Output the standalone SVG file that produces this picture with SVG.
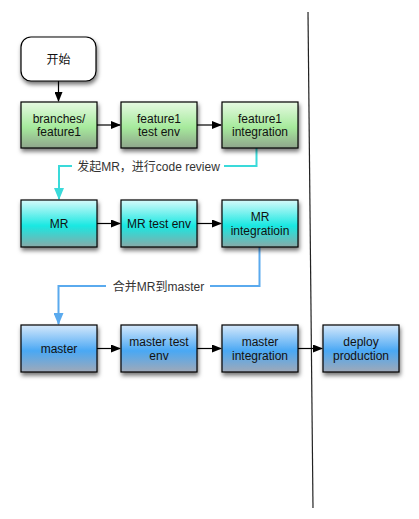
<svg xmlns="http://www.w3.org/2000/svg" width="419" height="519" viewBox="0 0 419 519">
<style>
.box{stroke:#000;stroke-width:1.2}
.t{font-family:"Liberation Sans","Noto Sans CJK SC",sans-serif;font-size:12px;fill:#111;text-anchor:middle}
.lbl{font-family:"Liberation Sans","Noto Sans CJK SC",sans-serif;font-size:12px;fill:#333;text-anchor:middle}
.blk{stroke:#000;stroke-width:1.2;fill:none}
</style>
<defs>
<filter id="sh" x="-20%" y="-20%" width="150%" height="160%">
<feDropShadow dx="1" dy="3" stdDeviation="2" flood-color="#000" flood-opacity="0.55"/>
</filter>
<linearGradient id="gG" x1="0" y1="0" x2="0" y2="1">
<stop offset="0" stop-color="#e6f9e2"/><stop offset="0.55" stop-color="#a6ea9c"/><stop offset="1" stop-color="#8fa58c"/>
</linearGradient>
<linearGradient id="gC" x1="0" y1="0" x2="0" y2="1">
<stop offset="0" stop-color="#d6fafa"/><stop offset="0.55" stop-color="#19e8e2"/><stop offset="1" stop-color="#88a9a8"/>
</linearGradient>
<linearGradient id="gB" x1="0" y1="0" x2="0" y2="1">
<stop offset="0" stop-color="#d5e8fb"/><stop offset="0.55" stop-color="#4aa8f4"/><stop offset="1" stop-color="#9fa9b8"/>
</linearGradient>
<marker id="aK" markerWidth="10" markerHeight="8" refX="9" refY="4" orient="auto" markerUnits="userSpaceOnUse">
<path d="M0,0 L10,4 L0,8 Z" fill="#000"/>
</marker>
<marker id="aC" markerWidth="12" markerHeight="10" refX="11" refY="5" orient="auto" markerUnits="userSpaceOnUse">
<path d="M0,0 L12,5 L0,10 Z" fill="#3adada"/>
</marker>
<marker id="aB" markerWidth="12" markerHeight="10" refX="11" refY="5" orient="auto" markerUnits="userSpaceOnUse">
<path d="M0,0 L12,5 L0,10 Z" fill="#5aaaee"/>
</marker>
</defs>
<rect width="419" height="519" fill="#fff"/>

<g id="connectors">
<line x1="308" y1="12" x2="313" y2="508" stroke="#222" stroke-width="1.2"/>
<line class="blk" x1="58.5" y1="81" x2="58.5" y2="101" marker-end="url(#aK)"/>
<line class="blk" x1="97" y1="125" x2="120" y2="125" marker-end="url(#aK)"/>
<line class="blk" x1="197" y1="125" x2="221" y2="125" marker-end="url(#aK)"/>
<line class="blk" x1="97" y1="223.5" x2="120" y2="223.5" marker-end="url(#aK)"/>
<line class="blk" x1="197" y1="223.5" x2="221" y2="223.5" marker-end="url(#aK)"/>
<line class="blk" x1="97" y1="348.5" x2="120" y2="348.5" marker-end="url(#aK)"/>
<line class="blk" x1="197" y1="348.5" x2="221" y2="348.5" marker-end="url(#aK)"/>
<line class="blk" x1="298" y1="348.5" x2="322" y2="348.5" marker-end="url(#aK)"/>
<path d="M256.5,148 V166 H224 M72,166 H59 V199" fill="none" stroke="#3adada" stroke-width="2" marker-end="url(#aC)"/>
<text class="lbl" x="148.5" y="170.5">发起MR，进行code review</text>
<path d="M259.5,247 V286 H210 M106,286 H58.5 V324" fill="none" stroke="#5aaaee" stroke-width="2" marker-end="url(#aB)"/>
<text class="lbl" x="158.5" y="290.5">合并MR到master</text>
</g>

<g id="start"><rect x="21" y="37" width="75" height="44" rx="10" fill="#fff" class="box" filter="url(#sh)"/><text class="t" x="58.5" y="63.5">开始</text></g>

<g id="branches-feature1"><rect x="21" y="102" width="76" height="46" fill="url(#gG)" class="box" filter="url(#sh)"/><text class="t" x="59" y="123">branches/</text><text class="t" x="59" y="136">feature1</text></g>
<g id="feature1-test-env"><rect x="121" y="102" width="76" height="46" fill="url(#gG)" class="box" filter="url(#sh)"/><text class="t" x="159" y="123">feature1</text><text class="t" x="159" y="136">test env</text></g>
<g id="feature1-integration"><rect x="222" y="102" width="76" height="46" fill="url(#gG)" class="box" filter="url(#sh)"/><text class="t" x="260" y="123">feature1</text><text class="t" x="260" y="136">integration</text></g>

<g id="mr"><rect x="21" y="200" width="76" height="47" fill="url(#gC)" class="box" filter="url(#sh)"/><text class="t" x="59" y="228">MR</text></g>
<g id="mr-test-env"><rect x="121" y="200" width="76" height="47" fill="url(#gC)" class="box" filter="url(#sh)"/><text class="t" x="159" y="228">MR test env</text></g>
<g id="mr-integratioin"><rect x="222" y="200" width="76" height="47" fill="url(#gC)" class="box" filter="url(#sh)"/><text class="t" x="260" y="221">MR</text><text class="t" x="260" y="235">integratioin</text></g>

<g id="master"><rect x="21" y="325" width="76" height="47" fill="url(#gB)" class="box" filter="url(#sh)"/><text class="t" x="59" y="353">master</text></g>
<g id="master-test-env"><rect x="121" y="325" width="76" height="47" fill="url(#gB)" class="box" filter="url(#sh)"/><text class="t" x="159" y="346">master test</text><text class="t" x="159" y="360">env</text></g>
<g id="master-integration"><rect x="222" y="325" width="76" height="47" fill="url(#gB)" class="box" filter="url(#sh)"/><text class="t" x="260" y="346">master</text><text class="t" x="260" y="360">integration</text></g>
<g id="deploy-production"><rect x="323" y="325" width="76" height="47" fill="url(#gB)" class="box" filter="url(#sh)"/><text class="t" x="361" y="346">deploy</text><text class="t" x="361" y="360">production</text></g>
</svg>
